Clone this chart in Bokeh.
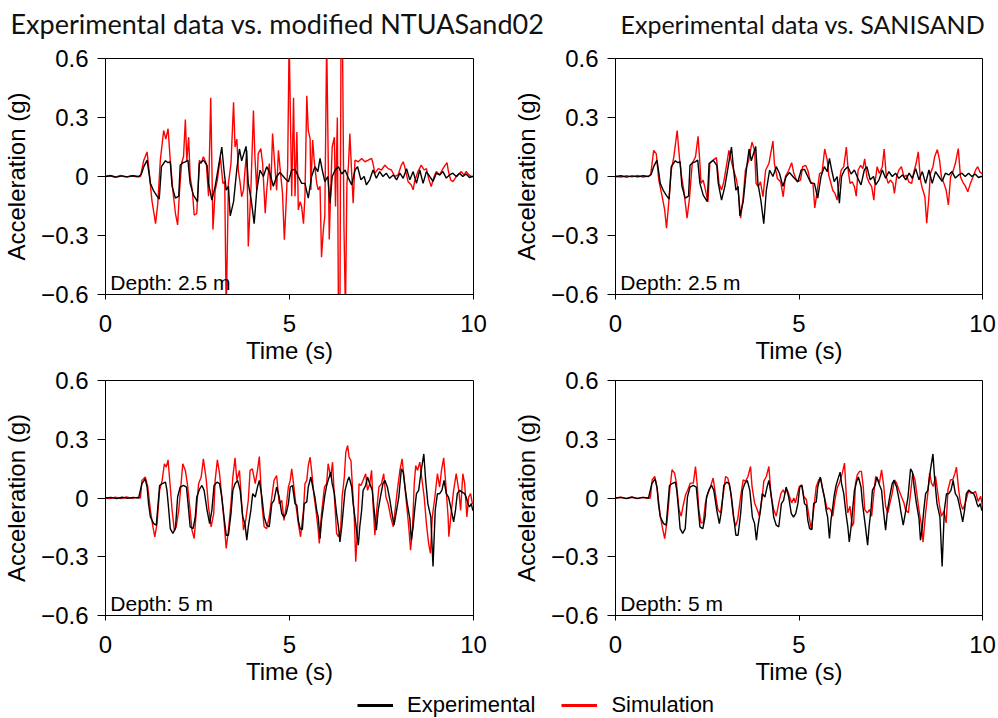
from bokeh.plotting import figure
from bokeh.models import Range1d, FixedTicker, Label, Legend, LegendItem
from bokeh.layouts import row, column
from bokeh.embed import file_html
from bokeh.resources import INLINE

# ---------------- data ----------------
x_ticks = [0, 5, 10]
y_ticks = [-0.6, -0.3, 0, 0.3, 0.6]
y_tick_labels = ["-0.6", "-0.3", "0", "0.3", "0.6"]

titles = ["Experimental data vs. modified NTUASand02", "Experimental data vs. SANISAND"]
depth_labels = ["Depth: 2.5 m", "Depth: 5 m"]
legend_labels = ["Experimental", "Simulation"]

# Experimental record, depth 2.5 m
exp25_t = [0.0, 0.15, 0.3, 0.45, 0.6, 0.75, 0.9, 0.97, 1.04, 1.13, 1.18, 1.22, 1.30, 1.40, 1.46,
           1.52, 1.63, 1.70, 1.76, 1.81, 1.90, 1.99, 2.03, 2.10, 2.17, 2.24, 2.30, 2.39, 2.50,
           2.55, 2.66, 2.76, 2.80, 2.89, 2.98, 3.07, 3.16, 3.22, 3.28, 3.34, 3.39, 3.48, 3.57,
           3.64, 3.70, 3.82, 3.88, 3.96, 4.04, 4.11, 4.20, 4.29, 4.38, 4.47, 4.56, 4.65, 4.74,
           4.88, 4.97, 5.06, 5.15, 5.24, 5.33, 5.42, 5.51, 5.60, 5.69, 5.77, 5.83, 5.89, 5.96,
           6.04, 6.10, 6.16, 6.24, 6.33, 6.42, 6.51, 6.60, 6.69, 6.78, 6.85, 6.94, 7.03, 7.09,
           7.18, 7.27, 7.36, 7.45, 7.54, 7.63, 7.72, 7.82, 7.91, 8.00, 8.09, 8.18, 8.27, 8.36,
           8.45, 8.54, 8.63, 8.72, 8.81, 8.90, 8.99, 9.08, 9.17, 9.26, 9.35, 9.44, 9.53, 9.62,
           9.71, 9.80, 9.89, 9.96, 10.0]
exp25_a = [0.0, 0.004, -0.003, 0.003, -0.002, 0.004, 0.0, 0.01, 0.05, 0.083, 0.02, -0.035, -0.07, -0.10, -0.115,
           0.05, 0.08, 0.07, 0.075, -0.05, -0.11, -0.10, 0.057, 0.07, 0.074, 0.083, -0.035, -0.095, -0.128,
           0.066, 0.083, 0.057, -0.035, -0.12, -0.05, 0.05, 0.15, 0.032, -0.07, -0.05, -0.2, -0.128, 0.04,
           0.14, 0.08, 0.153, -0.035, -0.12, -0.24, -0.07, 0.032, 0.0, 0.05, 0.015, -0.05, 0.0, 0.02,
           -0.01, -0.027, 0.033, 0.036, 0.0, -0.035, -0.035, -0.11, 0.0, 0.05, 0.025, 0.092, 0.033, -0.026,
           0.0, -0.136, 0.0, 0.033, 0.05, 0.013, 0.033, -0.008, -0.043, 0.033, 0.05, -0.017, 0.0, -0.043,
           -0.017, 0.033, -0.009, 0.025, 0.0, 0.017, -0.009, 0.008, -0.017, 0.017, -0.009, 0.04, -0.017, 0.025,
           -0.035, 0.033, -0.035, 0.025, 0.0, -0.025, 0.017, 0.008, 0.025, -0.008, 0.008, 0.017, 0.0, 0.017,
           0.0, 0.013, -0.005, 0.0, 0.0]

# Modified NTUASand02 simulation, depth 2.5 m (values beyond +-0.6 are clipped by the axes)
ntua25_t = [0.0, 0.12, 0.25, 0.4, 0.55, 0.7, 0.85, 0.95, 1.04, 1.13, 1.20, 1.26, 1.36, 1.42, 1.49,
            1.58, 1.64, 1.70, 1.76, 1.83, 1.90, 1.96, 2.01, 2.07, 2.12, 2.17, 2.21, 2.26, 2.30, 2.36,
            2.41, 2.48, 2.55, 2.60, 2.66, 2.74, 2.80, 2.86, 2.92, 2.98, 3.04, 3.12, 3.19, 3.24, 3.28,
            3.34, 3.41, 3.48, 3.52, 3.57, 3.61, 3.66, 3.70, 3.75, 3.79, 3.84, 3.88, 3.95, 4.02, 4.06,
            4.11, 4.15, 4.22, 4.27, 4.34, 4.38, 4.45, 4.49, 4.54, 4.59, 4.65, 4.70, 4.74, 4.81, 4.86,
            4.90, 4.95, 4.99, 5.06, 5.11, 5.15, 5.20, 5.24, 5.29, 5.33, 5.38, 5.42, 5.47, 5.51, 5.56,
            5.58, 5.63, 5.67, 5.74, 5.78, 5.83, 5.87, 5.92, 5.96, 6.01, 6.08, 6.12, 6.16, 6.22, 6.25,
            6.30, 6.33, 6.37, 6.40, 6.44, 6.48, 6.52, 6.56, 6.60, 6.64, 6.69, 6.73, 6.78, 6.87, 6.96,
            7.05, 7.14, 7.23, 7.27, 7.32, 7.41, 7.50, 7.59, 7.68, 7.77, 7.86, 7.95, 8.04, 8.09, 8.13,
            8.22, 8.31, 8.36, 8.40, 8.49, 8.58, 8.66, 8.72, 8.78, 8.85, 8.93, 8.99, 9.08, 9.17, 9.23,
            9.28, 9.32, 9.38, 9.44, 9.50, 9.58, 9.67, 9.74, 9.80, 9.88, 9.94, 10.0]
ntua25_a = [0.0, 0.005, -0.004, 0.006, -0.003, 0.004, -0.002, 0.0, 0.083, 0.125, 0.0, -0.12, -0.24, -0.14, 0.083,
            0.234, 0.19, 0.243, 0.083, -0.07, -0.187, -0.246, -0.08, 0.07, 0.1, 0.29, 0.08, 0.2, 0.0, -0.07,
            -0.196, -0.188, 0.083, 0.066, 0.1, 0.066, -0.10, 0.40, -0.27, -0.07, -0.018, 0.1, -0.035, -0.027, -0.7,
            -0.035, 0.066, 0.378, 0.15, 0.19, 0.03, -0.035, -0.103, -0.07, 0.03, 0.133, -0.356, -0.07, 0.336, 0.1,
            -0.07, 0.116, 0.142, 0.066, -0.187, -0.07, 0.066, -0.07, 0.218, 0.083, -0.07, 0.133, 0.05, -0.086, -0.322,
            -0.17, 0.05, 0.7, -0.10, 0.40, -0.10, 0.226, -0.17, -0.128, -0.153, -0.24, -0.10, 0.41, 0.235, 0.193,
            -0.068, 0.185, 0.083, -0.035, -0.068, -0.05, -0.41, -0.27, -0.2, 0.7, -0.32, -0.068, 0.15, 0.2, -0.153,
            0.3, -0.7, -0.7, 0.7, 0.7, -0.255, -0.7, -0.035, 0.05, 0.218, 0.016, -0.136, 0.083, 0.075, 0.092,
            0.075, 0.083, 0.092, 0.066, 0.016, 0.04, 0.033, 0.058, 0.04, 0.033, 0.0, 0.008, 0.058, 0.075, 0.05,
            -0.025, -0.043, -0.068, -0.025, 0.025, 0.058, 0.033, 0.04, -0.01, -0.051, 0.0, 0.025, 0.008, 0.04, 0.058,
            0.07, 0.025, -0.018, -0.026, -0.009, 0.008, 0.025, 0.008, 0.025, 0.008, 0.0, 0.0]

# SANISAND simulation, depth 2.5 m
sani25_t = [0.0, 0.15, 0.3, 0.45, 0.6, 0.75, 0.9, 0.96, 1.04, 1.11, 1.18, 1.27, 1.34, 1.39, 1.45,
            1.52, 1.59, 1.68, 1.74, 1.80, 1.86, 1.95, 2.02, 2.09, 2.18, 2.25, 2.30, 2.33, 2.39, 2.45,
            2.52, 2.57, 2.66, 2.75, 2.82, 2.89, 2.95, 3.02, 3.09, 3.15, 3.22, 3.30, 3.36, 3.41, 3.48,
            3.54, 3.63, 3.72, 3.79, 3.83, 3.89, 3.95, 4.02, 4.09, 4.18, 4.29, 4.33, 4.41, 4.50, 4.57,
            4.63, 4.72, 4.80, 4.86, 4.95, 5.04, 5.10, 5.18, 5.24, 5.31, 5.38, 5.43, 5.50, 5.56, 5.63,
            5.70, 5.77, 5.81, 5.86, 5.92, 5.98, 6.04, 6.09, 6.15, 6.22, 6.29, 6.34, 6.39, 6.45, 6.51,
            6.56, 6.61, 6.68, 6.74, 6.79, 6.85, 6.90, 6.98, 7.04, 7.08, 7.13, 7.19, 7.27, 7.32, 7.38,
            7.43, 7.49, 7.56, 7.60, 7.66, 7.72, 7.79, 7.86, 7.93, 7.99, 8.07, 8.13, 8.19, 8.25, 8.31,
            8.36, 8.43, 8.48, 8.54, 8.58, 8.65, 8.70, 8.77, 8.83, 8.88, 8.95, 9.01, 9.07, 9.13, 9.19,
            9.26, 9.34, 9.40, 9.46, 9.54, 9.60, 9.67, 9.74, 9.81, 9.87, 9.93, 10.0]
sani25_a = [0.0, -0.003, 0.004, -0.002, 0.005, -0.003, 0.002, 0.01, 0.133, 0.116, -0.018, -0.10, -0.17, -0.263, -0.135,
            0.032, 0.1, 0.234, 0.1, 0.0, -0.068, -0.212, -0.103, 0.066, 0.1, 0.204, 0.066, -0.035, -0.018, -0.068,
            -0.128, 0.066, 0.083, 0.096, -0.035, -0.068, -0.027, 0.05, 0.133, 0.083, 0.032, -0.018, -0.103, -0.212, -0.103,
            0.032, 0.083, 0.175, 0.133, -0.035, -0.052, -0.027, -0.103, 0.032, 0.066, 0.18, 0.066, -0.01, -0.027, -0.103,
            0.0, 0.032, 0.07, 0.015, -0.027, -0.018, 0.05, 0.057, 0.032, -0.027, -0.035, -0.16, -0.068, 0.015, 0.023,
            0.14, 0.083, 0.007, -0.027, -0.07, -0.086, -0.12, -0.035, 0.032, 0.05, 0.15, 0.032, -0.035, -0.027, -0.052,
            -0.10, 0.032, 0.057, 0.04, 0.09, -0.002, -0.027, -0.052, -0.12, -0.018, 0.05, 0.015, 0.05, 0.14, -0.002,
            -0.035, -0.018, -0.035, -0.086, -0.002, 0.032, 0.05, -0.002, 0.007, -0.027, -0.035, 0.023, 0.066, 0.125, -0.018,
            -0.06, -0.103, -0.238, -0.103, 0.015, 0.05, 0.103, 0.137, 0.083, -0.002, -0.035, -0.07, -0.145, -0.002, 0.023,
            0.066, 0.142, -0.002, -0.027, -0.052, -0.078, -0.035, -0.002, 0.032, 0.05, 0.023, 0.012]

# Experimental record, depth 5 m
exp5_t = [0.0, 0.15, 0.3, 0.45, 0.6, 0.75, 0.9, 0.99, 1.08, 1.13, 1.17, 1.22, 1.31, 1.38, 1.43,
          1.47, 1.54, 1.63, 1.67, 1.72, 1.76, 1.83, 1.90, 1.96, 2.03, 2.12, 2.20, 2.26, 2.30, 2.38,
          2.44, 2.48, 2.56, 2.62, 2.68, 2.76, 2.83, 2.89, 2.95, 3.03, 3.10, 3.16, 3.22, 3.28, 3.34,
          3.41, 3.46, 3.52, 3.59, 3.66, 3.73, 3.79, 3.84, 3.88, 3.95, 4.00, 4.07, 4.13, 4.18, 4.25,
          4.31, 4.38, 4.45, 4.52, 4.58, 4.65, 4.72, 4.79, 4.85, 4.91, 4.97, 5.02, 5.08, 5.15, 5.20,
          5.24, 5.29, 5.35, 5.40, 5.47, 5.51, 5.58, 5.65, 5.69, 5.74, 5.78, 5.83, 5.87, 5.92, 5.96,
          6.01, 6.05, 6.12, 6.16, 6.22, 6.28, 6.33, 6.37, 6.42, 6.46, 6.51, 6.58, 6.62, 6.69, 6.73,
          6.80, 6.87, 6.91, 6.96, 7.00, 7.07, 7.12, 7.18, 7.25, 7.30, 7.36, 7.41, 7.47, 7.54, 7.59,
          7.66, 7.73, 7.77, 7.84, 7.91, 7.97, 8.04, 8.09, 8.15, 8.20, 8.27, 8.31, 8.36, 8.40, 8.45,
          8.51, 8.58, 8.65, 8.70, 8.76, 8.84, 8.90, 8.96, 9.02, 9.08, 9.14, 9.20, 9.26, 9.32, 9.40,
          9.46, 9.51, 9.56, 9.62, 9.69, 9.76, 9.80, 9.85, 9.89, 9.94, 9.98, 10.0]
exp5_a = [0.0, 0.003, -0.003, 0.004, -0.002, 0.003, 0.0, 0.073, 0.098, 0.056, -0.029, -0.097, -0.131, -0.139, -0.029,
          0.064, 0.073, 0.081, 0.039, -0.063, -0.156, -0.181, -0.156, 0.005, 0.056, 0.064, 0.056, -0.063, -0.147, -0.156,
          -0.097, 0.005, 0.047, 0.064, 0.039, -0.063, -0.131, -0.063, 0.064, 0.081, 0.073, 0.005, -0.097, -0.19, -0.19,
          -0.080, 0.039, 0.073, 0.09, 0.039, -0.097, -0.131, -0.215, -0.147, -0.063, 0.022, 0.005, 0.056, 0.09, 0.005,
          -0.097, -0.139, -0.147, -0.029, -0.012, 0.056, 0.005, -0.080, -0.097, -0.080, -0.029, 0.056, 0.064, -0.029, -0.037,
          -0.114, -0.156, -0.161, -0.029, -0.020, 0.056, 0.107, 0.039, 0.005, -0.063, -0.097, -0.207, -0.114, -0.046, 0.014,
          0.064, 0.090, 0.132, 0.073, 0.022, -0.080, -0.147, -0.224, -0.147, -0.063, 0.039, 0.090, 0.107, 0.056, -0.029,
          -0.131, -0.241, -0.147, -0.063, 0.039, 0.064, 0.107, 0.073, 0.039, -0.063, -0.164, -0.063, 0.005, 0.073, 0.090,
          0.056, -0.012, -0.063, -0.139, -0.063, 0.005, 0.149, 0.132, 0.039, -0.029, -0.105, -0.215, -0.147, -0.063, 0.022,
          0.039, 0.141, 0.225, 0.090, -0.029, -0.097, -0.350, -0.063, 0.022, 0.022, 0.039, 0.090, 0.022, 0.005, -0.063,
          -0.122, -0.063, 0.022, 0.039, 0.030, 0.022, 0.005, -0.029, -0.046, -0.029, -0.063, -0.06]

# Modified NTUASand02 simulation, depth 5 m
ntua5_t = [0.0, 0.12, 0.27, 0.42, 0.57, 0.72, 0.87, 0.95, 0.99, 1.08, 1.15, 1.22, 1.29, 1.34, 1.40,
           1.47, 1.54, 1.60, 1.65, 1.70, 1.76, 1.81, 1.87, 1.92, 1.99, 2.03, 2.10, 2.17, 2.23, 2.30,
           2.35, 2.41, 2.47, 2.53, 2.60, 2.66, 2.74, 2.80, 2.87, 2.94, 2.98, 3.04, 3.10, 3.16, 3.22,
           3.28, 3.34, 3.41, 3.46, 3.52, 3.57, 3.64, 3.70, 3.75, 3.81, 3.88, 3.93, 3.99, 4.07, 4.13,
           4.18, 4.25, 4.31, 4.38, 4.45, 4.52, 4.58, 4.65, 4.72, 4.79, 4.85, 4.91, 4.97, 5.02, 5.06,
           5.11, 5.17, 5.24, 5.30, 5.38, 5.42, 5.47, 5.51, 5.56, 5.60, 5.67, 5.72, 5.78, 5.81, 5.87,
           5.95, 6.01, 6.05, 6.12, 6.17, 6.22, 6.28, 6.33, 6.39, 6.43, 6.49, 6.53, 6.58, 6.62, 6.67,
           6.71, 6.76, 6.80, 6.85, 6.89, 6.94, 7.00, 7.07, 7.12, 7.18, 7.23, 7.27, 7.32, 7.37, 7.43,
           7.50, 7.56, 7.62, 7.68, 7.75, 7.82, 7.88, 7.93, 8.00, 8.06, 8.11, 8.18, 8.24, 8.29, 8.34,
           8.39, 8.43, 8.48, 8.54, 8.58, 8.66, 8.72, 8.78, 8.83, 8.88, 8.95, 9.02, 9.08, 9.13, 9.19,
           9.24, 9.31, 9.33, 9.40, 9.46, 9.53, 9.60, 9.65, 9.71, 9.76, 9.82, 9.87, 9.92, 9.97, 10.0]
ntua5_a = [0.0, -0.003, 0.004, -0.003, 0.005, -0.002, 0.003, 0.0, 0.09, 0.107, 0.056, -0.063, -0.147, -0.198, -0.131,
           0.039, 0.090, 0.175, 0.158, 0.195, 0.056, -0.063, -0.164, -0.147, -0.063, 0.022, 0.175, 0.141, 0.064, -0.063,
           -0.164, -0.207, -0.063, 0.073, 0.107, 0.2, 0.090, -0.046, -0.147, -0.080, 0.090, 0.195, 0.124, 0.005, -0.114,
           -0.258, -0.164, -0.029, 0.107, 0.205, 0.090, 0.141, -0.029, -0.164, -0.114, -0.012, 0.141, 0.149, 0.073, 0.141,
           0.212, -0.029, -0.147, -0.156, -0.097, 0.005, 0.090, 0.115, -0.029, -0.012, -0.114, -0.046, 0.056, 0.090, 0.149,
           0.073, -0.029, -0.131, -0.198, -0.063, 0.073, 0.090, 0.166, 0.208, 0.141, 0.005, -0.063, -0.164, -0.232, -0.080,
           0.056, 0.073, 0.175, 0.107, 0.183, 0.005, -0.181, -0.198, -0.164, 0.005, 0.107, 0.234, 0.268, 0.208, 0.191,
           0.056, -0.097, -0.325, -0.147, 0.073, 0.064, 0.090, 0.124, 0.039, 0.073, 0.141, -0.029, -0.190, -0.063, 0.056,
           0.073, 0.124, 0.005, -0.029, -0.097, -0.147, -0.046, 0.039, 0.141, 0.2, 0.107, -0.029, -0.147, -0.266, -0.164,
           0.073, 0.166, 0.141, 0.183, 0.124, 0.005, -0.131, -0.232, -0.283, -0.097, 0.005, 0.124, 0.056, 0.141, 0.205,
           0.090, -0.097, -0.198, -0.063, 0.039, 0.124, 0.039, -0.063, 0.124, 0.073, -0.097, 0.005, 0.022, -0.029, -0.03]

# SANISAND simulation, depth 5 m
sani5_t = [0.0, 0.14, 0.29, 0.44, 0.59, 0.74, 0.88, 0.95, 1.00, 1.07, 1.14, 1.21, 1.27, 1.34, 1.41,
           1.48, 1.54, 1.61, 1.66, 1.73, 1.79, 1.84, 1.91, 1.97, 2.04, 2.12, 2.18, 2.23, 2.27, 2.33,
           2.39, 2.45, 2.52, 2.59, 2.66, 2.72, 2.79, 2.86, 2.93, 3.00, 3.06, 3.13, 3.21, 3.27, 3.33,
           3.41, 3.48, 3.54, 3.61, 3.68, 3.72, 3.79, 3.86, 3.92, 4.00, 4.04, 4.11, 4.18, 4.24, 4.31,
           4.38, 4.45, 4.51, 4.57, 4.61, 4.68, 4.74, 4.80, 4.86, 4.90, 5.01, 5.07, 5.13, 5.20, 5.27,
           5.34, 5.40, 5.47, 5.54, 5.59, 5.65, 5.72, 5.77, 5.81, 5.86, 5.92, 5.98, 6.04, 6.10, 6.18,
           6.24, 6.29, 6.33, 6.39, 6.45, 6.49, 6.54, 6.59, 6.65, 6.70, 6.75, 6.79, 6.86, 6.92, 6.98,
           7.04, 7.09, 7.15, 7.19, 7.25, 7.31, 7.36, 7.42, 7.48, 7.54, 7.60, 7.66, 7.72, 7.79, 7.86,
           7.90, 7.98, 8.04, 8.10, 8.16, 8.22, 8.28, 8.34, 8.38, 8.45, 8.51, 8.56, 8.61, 8.66, 8.72,
           8.77, 8.83, 8.88, 8.95, 9.01, 9.06, 9.13, 9.19, 9.25, 9.29, 9.35, 9.40, 9.46, 9.52, 9.58,
           9.63, 9.67, 9.74, 9.81, 9.88, 9.95, 10.0]
sani5_a = [0.0, 0.004, -0.002, 0.005, -0.003, 0.003, -0.002, 0.0, 0.093, 0.110, 0.042, -0.076, -0.144, -0.208, -0.110,
           0.042, 0.144, 0.127, 0.076, -0.059, -0.093, -0.042, 0.017, 0.042, 0.076, 0.076, 0.161, 0.059, -0.059, -0.127,
           -0.127, -0.025, 0.025, 0.059, 0.102, 0.025, -0.059, -0.076, 0.008, 0.110, 0.102, 0.042, -0.093, -0.144, -0.110,
           0.008, 0.093, 0.085, 0.110, 0.161, 0.059, -0.025, -0.059, -0.093, 0.008, 0.085, 0.110, 0.161, 0.008, -0.059,
           -0.093, -0.025, 0.025, 0.042, 0.025, 0.042, 0.008, -0.025, 0.0, -0.025, 0.059, 0.068, 0.008, -0.008, -0.093,
           -0.161, -0.059, 0.059, 0.093, 0.102, 0.042, -0.017, -0.059, -0.051, -0.059, -0.093, -0.008, 0.051, 0.076, 0.127,
           0.178, 0.008, -0.076, -0.042, -0.144, -0.127, 0.076, 0.119, 0.136, 0.136, 0.059, -0.059, -0.076, -0.059, -0.093,
           0.025, 0.110, 0.093, 0.076, 0.144, 0.059, -0.042, -0.076, -0.025, 0.025, 0.093, 0.076, 0.042, 0.008, -0.025,
           -0.059, -0.076, 0.025, 0.127, 0.093, 0.008, -0.076, -0.144, -0.225, -0.076, 0.025, 0.127, 0.076, 0.059, 0.110,
           0.042, -0.042, -0.093, -0.068, -0.127, 0.042, 0.093, 0.093, 0.127, 0.158, 0.042, -0.025, -0.059, -0.034, 0.008,
           0.042, 0.025, 0.025, 0.034, -0.017, 0.008, -0.042]

# ---------------- styling ----------------
AX_FONT = "Liberation Sans"
TITLE_FONT = "Lato"
RED = "#FF0000"
BLACK = "#000000"


def blank_strip(w, h):
    s = figure(width=w, height=h, x_range=Range1d(0, 1), y_range=Range1d(0, 1),
               output_backend="svg", toolbar_location=None, x_axis_type=None, y_axis_type=None,
               min_border=0, min_border_left=0, min_border_right=0, min_border_top=0, min_border_bottom=0,
               background_fill_color="white", border_fill_color="white")
    s.outline_line_color = None
    s.grid.visible = False
    return s


def make_panel(w, h, mbl, mbr, mbt, mbb, sim_t, sim_a, exp_t, exp_a, depth):
    p = figure(width=w, height=h, x_range=Range1d(0, 10), y_range=Range1d(-0.6, 0.6),
               output_backend="svg", toolbar_location=None,
               min_border_left=mbl, min_border_right=mbr, min_border_top=mbt, min_border_bottom=mbb,
               background_fill_color="white", border_fill_color="white")
    p.grid.visible = False
    p.outline_line_color = "black"
    p.outline_line_alpha = 1.0
    p.outline_line_width = 1

    p.xaxis.ticker = FixedTicker(ticks=x_ticks)
    p.xaxis.axis_label = "Time (s)"
    p.xaxis.major_tick_out = 5
    p.xaxis.major_tick_in = 0
    p.xaxis.minor_tick_out = 0
    p.xaxis.minor_tick_in = 0
    p.xaxis.major_label_standoff = 15
    p.xaxis.axis_label_standoff = 2

    p.yaxis.ticker = FixedTicker(ticks=y_ticks)
    p.yaxis.major_label_overrides = {str(t): lab for t, lab in zip(y_ticks, y_tick_labels)}
    p.yaxis.axis_label = "Acceleration (g)"
    p.yaxis.major_tick_out = 8
    p.yaxis.major_tick_in = 0
    p.yaxis.minor_tick_out = 0
    p.yaxis.minor_tick_in = 0
    p.yaxis.major_label_standoff = 9
    p.yaxis.axis_label_standoff = 8

    for ax in (p.xaxis, p.yaxis):
        ax.axis_line_color = "black"
        ax.major_tick_line_color = "black"
        ax.major_label_text_font = AX_FONT
        ax.major_label_text_font_size = "24px"
        ax.major_label_text_color = "black"
        ax.axis_label_text_font = AX_FONT
        ax.axis_label_text_font_size = "24px"
        ax.axis_label_text_font_style = "normal"
        ax.axis_label_text_color = "black"

    p.line(sim_t, sim_a, line_color=RED, line_width=1.4)
    p.line(exp_t, exp_a, line_color=BLACK, line_width=1.4)

    p.add_layout(Label(x=0.13, y=-0.54, text=depth, text_font=AX_FONT, text_font_size="21px",
                       text_color="black", text_baseline="alphabetic", text_align="left"))
    return p


# title strip (the left title is wider than its panel, so both titles share one strip)
head = blank_strip(998, 44)
head.add_layout(Label(x=10, y=21, x_units="screen", y_units="screen", text=titles[0],
                      text_font=TITLE_FONT, text_font_size="27px", text_color="#111111",
                      text_baseline="alphabetic", text_align="left"))
head.add_layout(Label(x=620, y=21, x_units="screen", y_units="screen", text=titles[1],
                      text_font=TITLE_FONT, text_font_size="25px", text_color="#111111",
                      text_baseline="alphabetic", text_align="left"))

tl = make_panel(510, 322, 105, 37, 14, 71, ntua25_t, ntua25_a, exp25_t, exp25_a, depth_labels[0])
tr = make_panel(488, 322, 105, 16, 14, 71, sani25_t, sani25_a, exp25_t, exp25_a, depth_labels[0])
bl = make_panel(510, 324, 105, 37, 14, 75, ntua5_t, ntua5_a, exp5_t, exp5_a, depth_labels[1])
br = make_panel(488, 324, 105, 16, 14, 75, sani5_t, sani5_a, exp5_t, exp5_a, depth_labels[1])

# legend strip
leg = blank_strip(998, 28)
nan = float("nan")
r_exp = leg.line(x=[nan], y=[nan], line_color=BLACK, line_width=3)
r_sim = leg.line(x=[nan], y=[nan], line_color=RED, line_width=3)
legend = Legend(items=[LegendItem(label=legend_labels[0], renderers=[r_exp]),
                       LegendItem(label=legend_labels[1], renderers=[r_sim])],
                orientation="horizontal", location=(357, 0),
                glyph_width=36, glyph_height=20, label_standoff=14, spacing=26,
                padding=0, margin=0, border_line_alpha=0, background_fill_alpha=0,
                label_text_font=AX_FONT, label_text_font_size="22px", label_text_color="black")
leg.add_layout(legend)

layout = column(head, row(tl, tr), row(bl, br), leg)

with open("out.html", "w") as f:
    f.write(file_html(layout, INLINE))
